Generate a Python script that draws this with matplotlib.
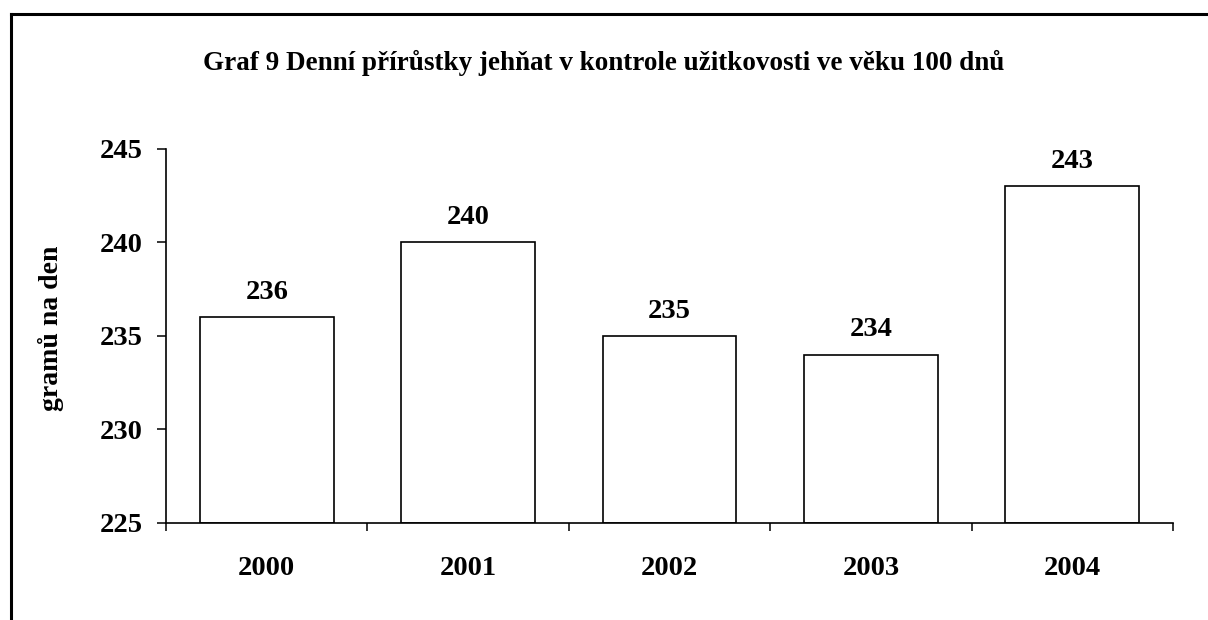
import matplotlib.pyplot as plt
from matplotlib.lines import Line2D

years = ["2000", "2001", "2002", "2003", "2004"]
gain = [236, 240, 235, 234, 243]
y_ticks = [225, 230, 235, 240, 245]

title = "Graf 9 Denní přírůstky jehňat v kontrole užitkovosti ve věku 100 dnů"
ylabel = "gramů na den"


def main():
    plt.rcParams["font.family"] = ["Liberation Serif", "DejaVu Serif"]
    plt.rcParams["font.weight"] = "bold"

    fig = plt.figure(figsize=(12.08, 6.2), dpi=100)
    ax = fig.add_axes([166 / 1208, 97.3 / 620, 1007 / 1208, 373.7 / 620])

    # outer chart frame (only top and left edges visible)
    W, H = 1208, 620
    fig.add_artist(Line2D([11 / W, 1.0], [1 - 14 / H, 1 - 14 / H], color="black", lw=2.2,
                          transform=fig.transFigure))
    fig.add_artist(Line2D([11 / W, 11 / W], [0.0, 1 - 14 / H], color="black", lw=2.2,
                          transform=fig.transFigure))

    x = range(len(years))
    bars = ax.bar(x, [g - y_ticks[0] for g in gain], bottom=y_ticks[0], width=0.665,
                  color="white", edgecolor="black", linewidth=1.2, zorder=2)
    for rect, val in zip(bars, gain):
        ax.annotate(str(val), (rect.get_x() + rect.get_width() / 2, val),
                    xytext=(0, 13), textcoords="offset points",
                    ha="center", va="baseline", fontsize=20.5, fontweight="bold")

    ax.set_xlim(-0.5, len(years) - 0.5)
    ax.set_ylim(y_ticks[0], y_ticks[-1])
    ax.set_yticks(y_ticks)
    ax.tick_params(axis="y", length=6.5, width=1.1, pad=10, labelsize=20.5, direction="out")

    # ticks between categories, labels at category centres
    ax.set_xticks([i - 0.5 for i in range(len(years) + 1)])
    ax.set_xticklabels([])
    ax.set_xticks(list(x), minor=True)
    ax.set_xticklabels(years, minor=True, fontsize=20.5, fontweight="bold")
    ax.tick_params(axis="x", which="major", length=6, width=1.1, direction="out")
    ax.tick_params(axis="x", which="minor", length=0, pad=24)

    for side in ["top", "right"]:
        ax.spines[side].set_visible(False)
    for side in ["left", "bottom"]:
        ax.spines[side].set_linewidth(1.2)

    ax.set_ylabel(ylabel, fontsize=20, fontweight="bold")
    ax.yaxis.set_label_coords(-0.101, 0.52)

    fig.text(0.4995, 1 - 63 / H, title, ha="center", va="center", fontsize=19.5, fontweight="bold")

    fig.savefig("out.png", dpi=100)


if __name__ == "__main__":
    main()
